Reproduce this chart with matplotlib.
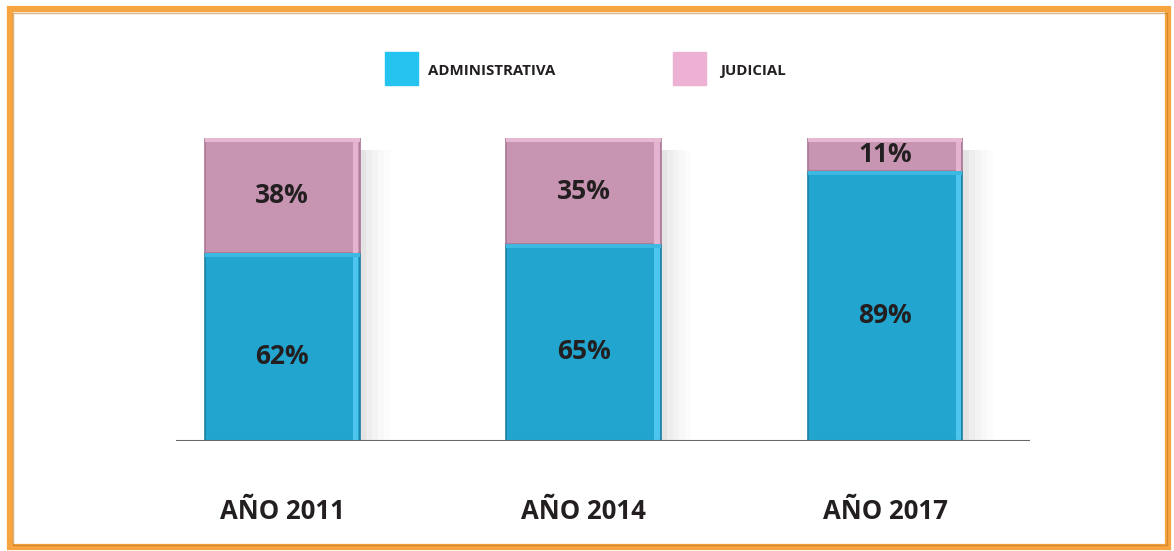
import matplotlib
matplotlib.use("Agg")
from matplotlib import pyplot as plt
from matplotlib.patches import Rectangle
import numpy as np

plt.rcParams['font.family'] = ['Open Sans', 'DejaVu Sans']

# data
years = ["AÑO 2011", "AÑO 2014", "AÑO 2017"]
administrativa = [62, 65, 89]
judicial = [38, 35, 11]
series_names = ["ADMINISTRATIVA", "JUDICIAL"]

BLUE = "#22A5CE"
PINK = "#C795B2"
BLUE_LEG = "#24C3F0"
PINK_LEG = "#EDB1D3"

fig = plt.figure(figsize=(11.74, 5.51), dpi=100)
ax = fig.add_axes([176 / 1174, 110 / 551, 854 / 1174, 303 / 551])

x = np.arange(len(years))
w = 0.514
totals = np.array(administrativa) + np.array(judicial)

# soft shadow to the right of the bars
for dx, a in [(0.02, 0.07), (0.04, 0.05), (0.06, 0.04), (0.08, 0.025), (0.10, 0.015)]:
    ax.bar(x + dx, totals - 3, w, bottom=-1, color="#777777", alpha=a,
           zorder=1, linewidth=0)

ax.bar(x, administrativa, w, color=BLUE, edgecolor="#1B7FA0",
       linewidth=1.2, zorder=3)
ax.bar(x, judicial, w, bottom=administrativa, color=PINK,
       edgecolor="#A97693", linewidth=1.2, zorder=3)

# bevel highlights
for xi, a, j in zip(x, administrativa, judicial):
    ax.add_patch(Rectangle((xi + w / 2 - 0.022, 0), 0.018, a, color="#4CC6EE",
                           zorder=4, linewidth=0))
    ax.add_patch(Rectangle((xi - w / 2, a - 1.2), w, 1.2, color="#3DB8E0",
                           zorder=4, linewidth=0))
    ax.add_patch(Rectangle((xi + w / 2 - 0.022, a), 0.018, j, color="#E3B3CF",
                           zorder=4, linewidth=0))
    ax.add_patch(Rectangle((xi - w / 2, a + j - 1.2), w, 1.2, color="#E6B8D2",
                           zorder=4, linewidth=0))

for xi, a, j in zip(x, administrativa, judicial):
    ax.text(xi, a / 2 - 3, f"{a}%", ha="center", va="center", fontsize=19,
            fontweight="bold", color="#231F20", zorder=5)
    ax.text(xi, a + j / 2, f"{j}%", ha="center", va="center", fontsize=19,
            fontweight="bold", color="#231F20", zorder=5)

ax.set_xlim(-0.352, 2.481)
ax.set_ylim(0, 100)
ax.axhline(0, color="#666666", linewidth=1.5, zorder=6)
for s in ax.spines.values():
    s.set_visible(False)
ax.set_yticks([])
ax.set_xticks(x)
ax.set_xticklabels(years, fontsize=18.5, fontweight="bold", color="#231F20")
ax.tick_params(axis="x", length=0, pad=41)

# legend drawn in figure pixels
fig.patches.append(Rectangle((385 / 1174, 1 - 85 / 551), 33 / 1174, 33 / 551,
                             transform=fig.transFigure, color=BLUE_LEG))
fig.patches.append(Rectangle((673 / 1174, 1 - 85 / 551), 33 / 1174, 33 / 551,
                             transform=fig.transFigure, color=PINK_LEG))
fig.text(428 / 1174, 1 - 71 / 551, series_names[0], fontsize=10.8,
         fontweight="bold", color="#231F20", va="center")
fig.text(720 / 1174, 1 - 71 / 551, series_names[1], fontsize=10.8,
         fontweight="bold", color="#231F20", va="center")

# orange frame
fig.patches.append(Rectangle((10 / 1174, 4 / 551), 1158 / 1174, 538 / 551,
                             transform=fig.transFigure, fill=False,
                             edgecolor="#F6A540", linewidth=4.5))
fig.patches.append(Rectangle((12.5 / 1174, 6.5 / 551), 1154 / 1174, 532 / 551,
                             transform=fig.transFigure, fill=False,
                             edgecolor="#B46E18", linewidth=1.0, alpha=0.5))

fig.savefig("out.png", dpi=100)
